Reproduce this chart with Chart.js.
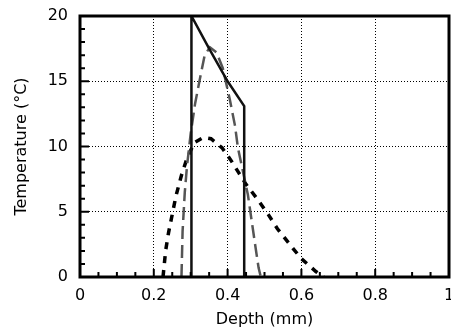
<!DOCTYPE html>
<html>
<head>
<meta charset="utf-8">
<script src="https://cdn.jsdelivr.net/npm/chart.js@4/dist/chart.umd.min.js"></script>
<style>
	html, body { margin: 0; background: #fff; }
	#wrap { width: 451px; height: 329px; }
</style>
</head>
<body>
<div id="wrap"><canvas id="chart"></canvas></div>
<script>
// solid profile
const depthSolid = [0.302, 0.302, 0.35, 0.40, 0.445, 0.445];
const tempSolid = [0, 20, 17.5, 15.0, 13.1, 0];

// long dashed profile
const depthLong = [0.275, 0.278, 0.284, 0.29, 0.30, 0.312, 0.325, 0.338, 0.352, 0.37, 0.387, 0.406, 0.42, 0.428, 0.455, 0.474, 0.484, 0.49];
const tempLong = [0, 3.5, 6.5, 8.5, 11.0, 13.3, 15.2, 17.0, 17.6, 17.2, 16.0, 13.6, 11.6, 9.9, 6.3, 2.6, 0.7, 0];

// short dashed profile
const depthShort = [0.225, 0.232, 0.24, 0.25, 0.26, 0.275, 0.29, 0.31, 0.335, 0.355, 0.385, 0.41, 0.43, 0.45, 0.48, 0.51, 0.535, 0.577, 0.60, 0.64, 0.66];
const tempShort = [0, 2.0, 3.4, 4.8, 6.2, 7.8, 9.1, 10.3, 10.7, 10.6, 9.9, 8.9, 8.0, 7.1, 6.0, 4.8, 3.7, 2.2, 1.4, 0.4, 0];

const xTicks = [0, 0.2, 0.4, 0.6, 0.8, 1];
const xLabels = ['0', '0.2', '0.4', '0.6', '0.8', '1'];
const yTicks = [0, 5, 10, 15, 20];
const xMinorStep = 0.05;
const yMinorStep = 1;

const pts = (xs, ys) => xs.map((x, i) => ({ x, y: ys[i] }));

const font = { family: '"DejaVu Sans", Verdana, sans-serif', size: 16 };

// frame and inward tick marks, drawn on top of the data
const frame = {
	id: 'frame',
	afterDatasetsDraw(chart) {
		const { ctx, chartArea: a, scales: { x, y } } = chart;
		ctx.save();
		ctx.strokeStyle = '#000';
		ctx.lineWidth = 2;
		ctx.beginPath();
		for (let v = 0; v <= 1.0001; v += xMinorStep) {
			const px = x.getPixelForValue(v);
			const major = xTicks.some(t => Math.abs(t - v) < 1e-6);
			ctx.moveTo(px, a.bottom);
			ctx.lineTo(px, a.bottom - (major ? 8 : 5));
		}
		for (let v = 0; v <= 20.0001; v += yMinorStep) {
			const py = y.getPixelForValue(v);
			const major = yTicks.some(t => Math.abs(t - v) < 1e-6);
			ctx.moveTo(a.left, py);
			ctx.lineTo(a.left + (major ? 9 : 5), py);
		}
		ctx.stroke();
		ctx.lineWidth = 3;
		ctx.strokeRect(a.left, a.top, a.right - a.left, a.bottom - a.top);
		ctx.restore();
	}
};

new Chart(document.getElementById('chart'), {
	type: 'scatter',
	data: {
		datasets: [{
			data: pts(depthSolid, tempSolid),
			showLine: true,
			borderColor: '#111',
			borderWidth: 2.5,
			pointRadius: 0
		}, {
			data: pts(depthLong, tempLong),
			showLine: true,
			borderColor: '#555',
			borderWidth: 2.5,
			borderDash: [13, 6],
			pointRadius: 0
		}, {
			data: pts(depthShort, tempShort),
			showLine: true,
			borderColor: '#000',
			borderWidth: 3.5,
			borderDash: [7, 7],
			pointRadius: 0
		}]
	},
	options: {
		responsive: true,
		maintainAspectRatio: false,
		animation: false,
		layout: { padding: { left: 0, right: 2, top: 16, bottom: 0 } },
		plugins: { legend: { display: false }, tooltip: { enabled: false } },
		scales: {
			x: {
				type: 'linear',
				min: 0,
				max: 1,
				afterFit: s => { s.height = 52; s.paddingLeft = 0; s.paddingRight = 0; },
				afterBuildTicks: s => { s.ticks = xTicks.map(value => ({ value })); },
				ticks: {
					font, color: '#000', padding: 9, maxRotation: 0,
					callback: (v, i) => xLabels[i]
				},
				grid: { color: '#000', lineWidth: 1, drawTicks: false },
				border: { display: false, dash: [1, 2] },
				title: { display: true, text: 'Depth (mm)', font, color: '#000', padding: 0 }
			},
			y: {
				min: 0,
				max: 20,
				afterFit: s => { s.width = 80; s.paddingTop = 0; s.paddingBottom = 0; },
				afterBuildTicks: s => { s.ticks = yTicks.map(value => ({ value })); },
				ticks: { font, color: '#000', padding: 12 },
				grid: { color: '#000', lineWidth: 1, drawTicks: false },
				border: { display: false, dash: [1, 2] },
				title: { display: true, text: 'Temperature (°C)', font, color: '#000', padding: { top: 12, bottom: 0 } }
			}
		}
	},
	plugins: [frame]
});
</script>
</body>
</html>
